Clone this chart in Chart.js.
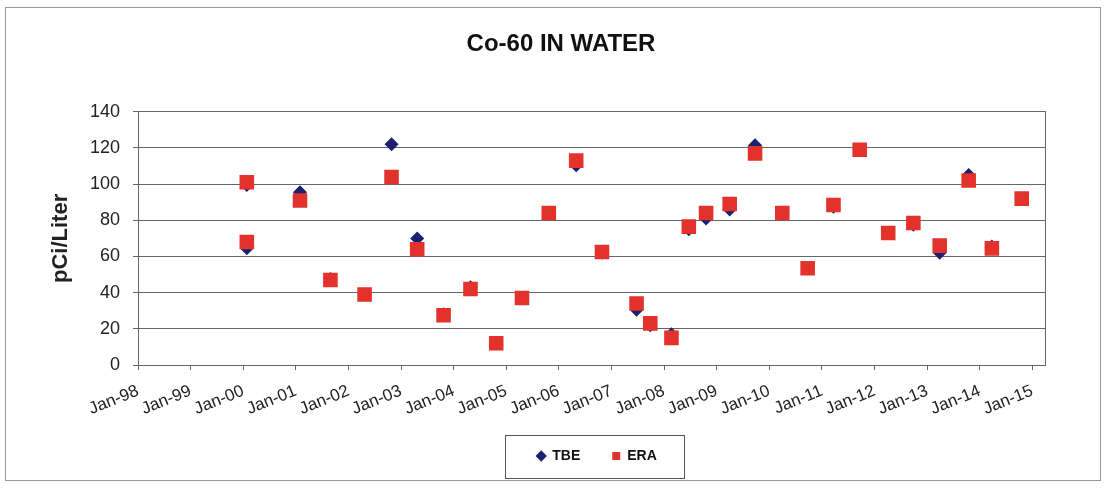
<!DOCTYPE html>
<html>
<head>
<meta charset="utf-8">
<title>Co-60 IN WATER</title>
<script src="https://cdn.jsdelivr.net/npm/chart.js@4.4.1/dist/chart.umd.min.js"></script>
<style>
    html, body { margin: 0; padding: 0; background: #fff; }
    canvas { display: block; }
</style>
</head>
<body>
<canvas id="co60Chart" width="1107" height="488"></canvas>
<script>
// sample dates (two samples were taken in Jan-00)
const sampleDates = [
    '2000-01-26', '2000-01-26', '2001-01-30', '2001-08-29', '2002-04-23',
    '2002-10-27', '2003-04-23', '2003-10-23', '2004-04-27', '2004-10-23',
    '2005-04-20', '2005-10-23', '2006-05-01', '2006-10-27', '2007-06-24',
    '2007-09-27', '2008-02-21', '2008-06-21', '2008-10-19', '2009-04-01',
    '2009-09-24', '2010-04-01', '2010-09-24', '2011-03-22', '2011-09-20',
    '2012-04-05', '2012-09-27', '2013-03-29', '2013-10-16', '2014-03-26',
    '2014-10-19'
];
const tbeValues = [
    99.5, 64.5, 95.5, 47.5, 39, 122, 70, 28, 43, 12,
    37, 84, 110.5, 62, 30.5, 22, 17, 75, 81, 86,
    121.5, 83.5, 53.5, 87.5, 119, 73, 77.5, 62, 105, 65.5,
    92
];
const eraValues = [
    101, 68, 91, 47, 39, 104, 64, 27.5, 42, 12,
    37, 84, 113, 62.5, 34, 23, 15, 76.5, 84, 89,
    117, 84, 53.5, 88.5, 119, 73, 78.5, 66, 102, 64.5,
    92
];
const xTickLabels = [
    'Jan-98', 'Jan-99', 'Jan-00', 'Jan-01', 'Jan-02', 'Jan-03', 'Jan-04', 'Jan-05', 'Jan-06',
    'Jan-07', 'Jan-08', 'Jan-09', 'Jan-10', 'Jan-11', 'Jan-12', 'Jan-13', 'Jan-14', 'Jan-15'
];
const firstYear = 1998;
const lastYear = 2015.24;
const yMin = 0, yMax = 140, yStep = 20;

const FONT = 'Arial, "Liberation Sans", sans-serif';
const LEGEND_SHIFT = 36;

// date string -> decimal year for the linear x axis
function toYear(s) {
    const d = new Date(s + 'T00:00:00Z');
    const y = d.getUTCFullYear();
    const start = Date.UTC(y, 0, 1);
    const end = Date.UTC(y + 1, 0, 1);
    return y + (d - start) / (end - start);
}

function toPoints(values) {
    return values.map((v, i) => ({ x: toYear(sampleDates[i]), y: v }));
}

// outer frame, plot border and legend box
const framePlugin = {
    id: 'frame',
    afterLayout(chart) {
        chart.legend.left += LEGEND_SHIFT;
        chart.legend.right += LEGEND_SHIFT;
    },
    afterDraw(chart) {
        const c = chart.ctx;
        c.save();
        c.strokeStyle = '#9a9a9a';
        c.lineWidth = 1;
        c.strokeRect(5.5, 7.5, 1095, 473);

        const hb = chart.legend.legendHitBoxes;
        if (hb && hb.length) {
            const first = hb[0];
            const last = hb[hb.length - 1];
            const cy = first.top + first.height / 2;
            const left = Math.round(first.left - 32) + 0.5;
            const right = Math.round(last.left + last.width + 27) + 0.5;
            c.strokeStyle = '#555';
            c.strokeRect(left, Math.round(cy - 21.5) + 0.5, right - left, 43);
        }
        c.restore();
    }
};

const ctx = document.getElementById('co60Chart').getContext('2d');

new Chart(ctx, {
    type: 'scatter',
    data: {
        datasets: [
            {
                label: 'TBE',
                data: toPoints(tbeValues),
                pointStyle: 'rectRot',
                pointRadius: 7,
                pointHoverRadius: 7,
                backgroundColor: '#1b2170',
                borderColor: '#1b2170',
                borderWidth: 0,
                order: 1
            },
            {
                label: 'ERA',
                data: toPoints(eraValues),
                pointStyle: 'rect',
                pointRadius: 10.3,
                pointHoverRadius: 10.3,
                backgroundColor: '#e3312b',
                borderColor: '#e3312b',
                borderWidth: 0,
                order: 0
            }
        ]
    },
    options: {
        responsive: false,
        animation: false,
        devicePixelRatio: 1,
        layout: {
            padding: { left: 15, right: 0, top: 0, bottom: 15 }
        },
        scales: {
            x: {
                type: 'linear',
                position: 'bottom',
                min: firstYear,
                max: lastYear,
                afterFit: (scale) => { scale.height = 52; },
                border: { display: true, color: '#666', width: 1 },
                grid: {
                    drawOnChartArea: false,
                    drawTicks: true,
                    tickLength: 5,
                    color: '#666'
                },
                ticks: {
                    stepSize: 1,
                    includeBounds: false,
                    autoSkip: false,
                    minRotation: 22,
                    maxRotation: 22,
                    padding: 11,
                    color: '#222',
                    font: { family: FONT, size: 17 },
                    callback: (v) => xTickLabels[Math.round(v - 1998)] || ''
                }
            },
            y: {
                min: yMin,
                max: yMax,
                afterFit: (scale) => { scale.width = 123; },
                border: { display: true, color: '#666', width: 1 },
                grid: {
                    color: '#666',
                    lineWidth: 1,
                    tickLength: 5
                },
                ticks: {
                    stepSize: yStep,
                    padding: 13,
                    color: '#222',
                    font: { family: FONT, size: 18 }
                },
                title: {
                    display: true,
                    text: 'pCi/Liter',
                    color: '#222',
                    padding: { top: 33, bottom: 0 },
                    font: { family: FONT, size: 22, weight: 'bold' }
                }
            },
            y2: {
                position: 'right',
                min: yMin,
                max: yMax,
                afterFit: (scale) => { scale.width = 62; },
                border: { display: true, color: '#666', width: 1 },
                grid: { display: false },
                ticks: { display: false }
            }
        },
        plugins: {
            title: {
                display: true,
                text: 'Co-60 IN WATER',
                color: '#111',
                padding: { top: 30, bottom: 53 },
                font: { family: FONT, size: 24, weight: 'bold' }
            },
            legend: {
                position: 'bottom',
                labels: {
                    usePointStyle: true,
                    boxHeight: 8,
                    boxWidth: 8,
                    padding: 32,
                    color: '#111',
                    font: { family: FONT, size: 14, weight: 'bold' },
                    sort: (a, b) => a.datasetIndex - b.datasetIndex
                }
            },
            tooltip: { enabled: false }
        }
    },
    plugins: [framePlugin]
});
</script>
</body>
</html>
